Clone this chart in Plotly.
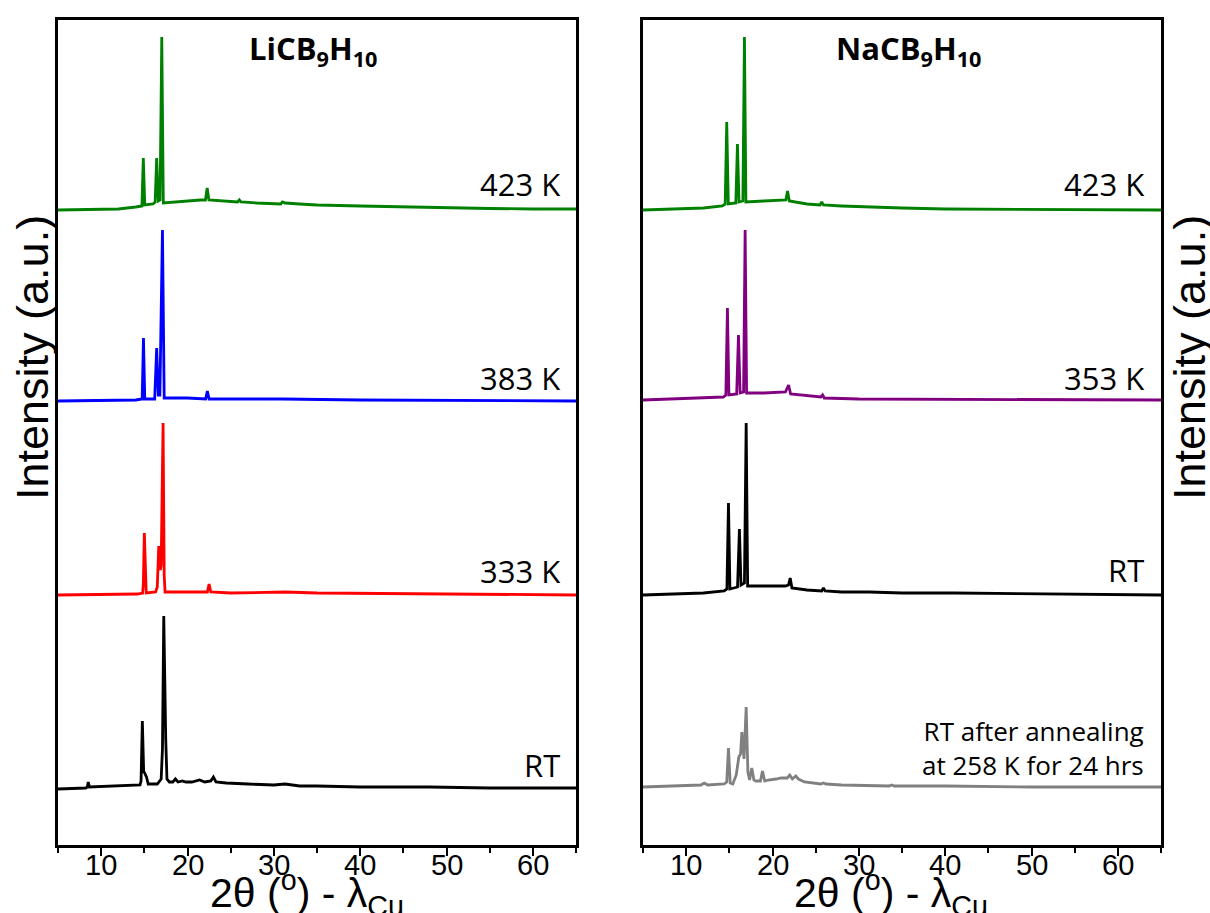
import plotly.graph_objects as go

# ---------------- data (2θ in degrees, intensity in arbitrary units) ----------------
# Left panel: LiCB9H10
li_rt_x = [5, 8.2, 8.4, 8.5, 8.65, 12, 14.5, 14.62, 14.77, 14.92, 15.1, 15.25, 15.45, 16.5, 16.95, 17.1, 17.25,
           17.38, 17.48, 17.62, 17.9, 18.3, 18.6, 18.9, 19.4, 19.8, 20.5, 21.4, 22, 22.7, 23.0, 23.3, 24.5, 27, 30,
           31.3, 33, 35, 40, 48, 55, 65]
li_rt_y = [0, 1, 2, 7, 2, 3, 4, 8, 68, 18, 15, 12, 5, 5, 10, 40, 173,
           80, 50, 10, 7, 7, 10, 7, 8, 7, 7, 9, 7, 8, 12, 7, 6, 5, 4,
           5, 3, 3, 2, 2, 1, 1]

li_333_x = [5, 14.2, 14.8, 14.88, 15.0, 15.12, 15.22, 16.3, 16.5, 16.67, 16.85, 16.95, 17.17, 17.3, 17.4, 20, 22.3,
            22.5, 22.7, 25, 31.3, 35, 65]
li_333_y = [0, 1, 2, 10, 62, 8, 2, 3, 8, 49, 25, 30, 172, 20, 3, 3, 3,
            11, 3, 2, 3, 2, 0]

li_383_x = [5, 14.0, 14.75, 14.9, 15.05, 16.2, 16.43, 16.62, 16.8, 17.1, 17.3, 20, 22.1, 22.3, 22.5, 25, 31, 40, 65]
li_383_y = [0, 1, 2, 63, 2, 2, 53, 6, 6, 171, 3, 3, 2, 10, 2, 2, 2, 1, 0]

li_423_x = [5, 12, 14.0, 14.72, 14.88, 15.05, 16.0, 16.25, 16.43, 16.62, 16.82, 17.02, 17.2, 18.5, 20, 21.5, 22.08,
            22.28, 22.48, 24, 25.8, 26.0, 26.2, 28, 30.8, 31.0, 31.3, 33, 35, 40, 45, 50, 55, 60, 65]
li_423_y = [0, 1, 3, 4, 52, 5, 6, 8, 52, 9, 10, 173, 7, 8, 9, 10, 10,
            22, 10, 9, 8, 10, 8, 7, 6, 8, 7, 6, 5, 4, 3, 2, 1.5, 1, 1]

# Right panel: NaCB9H10
na_ann_x = [5, 8, 11.7, 12.1, 12.5, 14.4, 14.7, 14.9, 15.1, 15.4, 15.8, 16.1, 16.3, 16.45, 16.55, 16.7, 16.95,
            17.15, 17.35, 17.6, 17.85, 18.1, 18.6, 18.84, 19.1, 19.5, 20.4, 21.0, 21.7, 22.0, 22.3, 22.7, 23.0,
            23.7, 25.6, 25.9, 26.2, 28, 33.5, 33.8, 34.1, 38.8, 40, 50, 65]
na_ann_y = [0, 1, 2, 4, 2, 3, 5, 39, 4, 3, 12, 30, 33, 55, 40, 28, 80,
            15, 7, 19, 7, 6, 6, 16, 6, 7, 8, 9, 9, 12, 8, 11, 8,
            5, 3, 4, 3, 2, 1, 2, 1, 1, 1, 0, 0]

na_rt_x = [5, 12, 14.4, 14.72, 14.9, 15.07, 15.95, 16.17, 16.35, 16.75, 16.95, 17.12, 19, 21.5, 21.85, 22.05, 22.25,
           24, 25.7, 25.9, 26.1, 28, 31.2, 35, 41, 50, 65]
na_rt_y = [0, 2, 4, 6, 92, 6, 8, 66, 10, 12, 172, 9, 9, 9, 10, 17, 7,
           5, 4, 7, 4, 3, 3, 2, 2, 1, 0]

na_353_x = [5, 14.3, 14.6, 14.78, 14.95, 15.85, 16.06, 16.25, 16.65, 16.83, 17.0, 19, 21.5, 21.86, 22.1, 24, 25.6,
            25.8, 26.0, 30, 65]
na_353_y = [0, 3, 5, 92, 5, 6, 65, 7, 8, 170, 7, 7, 8, 15, 6, 4, 3,
            5, 2, 1, 0]

na_423_x = [5, 12, 14.2, 14.52, 14.7, 14.88, 15.75, 15.94, 16.12, 16.57, 16.75, 16.92, 19, 21.3, 21.55, 21.74, 21.95,
            24, 25.5, 25.7, 25.9, 28, 30.8, 35, 40, 65]
na_423_y = [0, 2, 4, 6, 88, 6, 7, 66, 8, 9, 173, 8, 9, 10, 10, 19, 9,
            6, 5, 8, 5, 4, 3, 2, 1, 0]

# stacking offsets (baselines) of each pattern, bottom to top
li_offsets = [56, 250, 444, 635]
na_offsets = [58, 250, 445, 635]

li_labels = ["RT", "333 K", "383 K", "423 K"]
na_labels = ["RT", "353 K", "423 K"]
na_ann_label = "RT after annealing<br>at 258 K for 24 hrs"

x_ticks = [10, 20, 30, 40, 50, 60]
x_tick_text = ["10", "20", "30", "40", "50", "60"]
x_minor_ticks = [5, 15, 25, 35, 45, 55, 65]

# ---------------- figure ----------------
fig = go.Figure()

li_series = [(li_rt_x, li_rt_y, "black"), (li_333_x, li_333_y, "#ff0000"),
             (li_383_x, li_383_y, "#0000ff"), (li_423_x, li_423_y, "#008000")]
na_series = [(na_ann_x, na_ann_y, "#808080"), (na_rt_x, na_rt_y, "black"),
             (na_353_x, na_353_y, "#800080"), (na_423_x, na_423_y, "#008000")]

for (xs, ys, col), off in zip(li_series, li_offsets):
    fig.add_trace(go.Scatter(x=xs, y=[v + off for v in ys], mode="lines",
                             line=dict(color=col, width=2.8), xaxis="x", yaxis="y",
                             showlegend=False, hoverinfo="skip"))
for (xs, ys, col), off in zip(na_series, na_offsets):
    fig.add_trace(go.Scatter(x=xs, y=[v + off for v in ys], mode="lines",
                             line=dict(color=col, width=2.8), xaxis="x2", yaxis="y2",
                             showlegend=False, hoverinfo="skip"))

W, H = 1210, 913
x_axis = dict(range=[5, 65], tickvals=x_ticks, ticks="outside", ticklen=8, tickwidth=2, tickcolor="black",
              showticklabels=False, showline=True, linecolor="black", linewidth=2.5, mirror=True,
              showgrid=False, zeroline=False,
              minor=dict(tickvals=x_minor_ticks, ticks="outside", ticklen=5, tickwidth=2, tickcolor="black"))
yaxis_common = dict(range=[0, 825], showticklabels=False, ticks="", showline=True, linecolor="black",
                    linewidth=2.5, mirror=True, showgrid=False, zeroline=False)

ydom = [(H - 845) / H, (H - 20) / H]
fig.update_layout(
    width=W, height=H,
    margin=dict(l=0, r=0, t=0, b=0),
    paper_bgcolor="white", plot_bgcolor="white",
    xaxis=dict(domain=[58 / W, 576 / W], anchor="y", **x_axis),
    yaxis=dict(domain=ydom, anchor="x", **yaxis_common),
    xaxis2=dict(domain=[643 / W, 1161 / W], anchor="y2", **x_axis),
    yaxis2=dict(domain=ydom, anchor="x2", **yaxis_common),
    showlegend=False,
)

ann = []
# tick labels placed on the axes' own x scale
tick_font = dict(family="Arial", size=29, color="black")
for xr in ["x", "x2"]:
    for v, t in zip(x_ticks, x_tick_text):
        ann.append(dict(text=t, x=v, xref=xr, y=1 - 865 / H, yref="paper", showarrow=False,
                        font=tick_font, xanchor="center", yanchor="middle"))

label_font = dict(family="Open Sans", size=31, color="black")
title_font = dict(family="Open Sans", size=31, color="black")
ann.append(dict(text="<b>LiCB<sub>9</sub>H<sub>10</sub></b>", x=313 / W, y=1 - 50 / H, xref="paper", yref="paper",
                showarrow=False, font=title_font, xanchor="center", yanchor="middle"))
ann.append(dict(text="<b>NaCB<sub>9</sub>H<sub>10</sub></b>", x=908 / W, y=1 - 50 / H, xref="paper", yref="paper",
                showarrow=False, font=title_font, xanchor="center", yanchor="middle"))

li_label_y = [765, 571, 378, 184]
for lab, yp in zip(li_labels, li_label_y):
    ann.append(dict(text=lab, x=562 / W, y=1 - yp / H, xref="paper", yref="paper", showarrow=False,
                    font=label_font, xanchor="right", yanchor="middle"))
na_label_y = [570, 378, 184]
for lab, yp in zip(na_labels, na_label_y):
    ann.append(dict(text=lab, x=1146 / W, y=1 - yp / H, xref="paper", yref="paper", showarrow=False,
                    font=label_font, xanchor="right", yanchor="middle", align="right"))
ann.append(dict(text=na_ann_label, x=1146 / W, y=1 - 748 / H, xref="paper", yref="paper", showarrow=False,
                font=dict(family="Open Sans", size=26, color="black"), xanchor="right", yanchor="middle",
                align="right"))

axis_title_font = dict(family="Arial", size=41, color="black")
for cx in [307, 891]:
    ann.append(dict(text="2θ (<sup>o</sup>) - λ<sub>Cu</sub>", x=cx / W, y=1 - 893 / H, xref="paper", yref="paper",
                    showarrow=False, font=axis_title_font, xanchor="center", yanchor="middle"))
for cx in [32, 1189]:
    ann.append(dict(text="Intensity (a.u.)", x=cx / W, y=1 - 358 / H, xref="paper", yref="paper",
                    showarrow=False, font=dict(family="Arial", size=45, color="black"), textangle=-90,
                    xanchor="center", yanchor="middle"))

fig.update_layout(annotations=ann)
fig.write_html("out.html")
